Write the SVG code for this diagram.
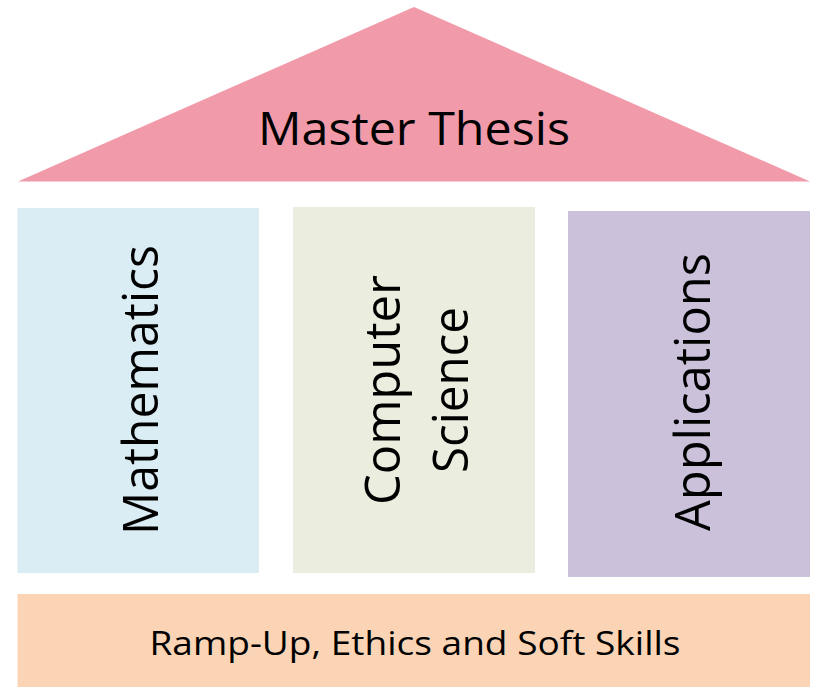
<svg xmlns="http://www.w3.org/2000/svg" width="813" height="687" viewBox="0 0 813 687">
  <style>
    .lbl { font-family: "Open Sans", "Liberation Sans", sans-serif; fill: #000000; text-anchor: middle; }
    .big { font-size: 49px; }
  </style>
  <rect x="0" y="0" width="813" height="687" fill="#ffffff"/>
  <g id="roof">
    <polygon points="414,7 810,181.5 18,181.5" fill="#F09AAA"/>
    <text class="lbl" x="414" y="144.5" font-size="46" textLength="312" lengthAdjust="spacingAndGlyphs">Master Thesis</text>
  </g>
  <g id="mathematics">
    <rect x="17.5" y="208" width="241.5" height="365" fill="#DAEDF4"/>
    <text class="lbl big" transform="translate(158,390) rotate(-90)" x="0" y="0" textLength="290" lengthAdjust="spacingAndGlyphs">Mathematics</text>
  </g>
  <g id="computer-science">
    <rect x="293" y="207" width="242" height="366" fill="#EBEEDF"/>
    <text class="lbl big" transform="translate(400,390) rotate(-90)" x="0" y="0" textLength="230" lengthAdjust="spacingAndGlyphs">Computer</text>
    <text class="lbl big" transform="translate(468,390) rotate(-90)" x="0" y="0" textLength="166" lengthAdjust="spacingAndGlyphs">Science</text>
  </g>
  <g id="applications">
    <rect x="568" y="211" width="242" height="366" fill="#CBC1DA"/>
    <text class="lbl big" transform="translate(710,392) rotate(-90)" x="0" y="0" textLength="278" lengthAdjust="spacingAndGlyphs">Applications</text>
  </g>
  <g id="foundation">
    <rect x="17.5" y="594" width="792.5" height="93" fill="#FAD4B5"/>
    <text class="lbl" x="415" y="655" font-size="33" textLength="531" lengthAdjust="spacingAndGlyphs">Ramp-Up, Ethics and Soft Skills</text>
  </g>
  <g id="connectors"></g>
</svg>
